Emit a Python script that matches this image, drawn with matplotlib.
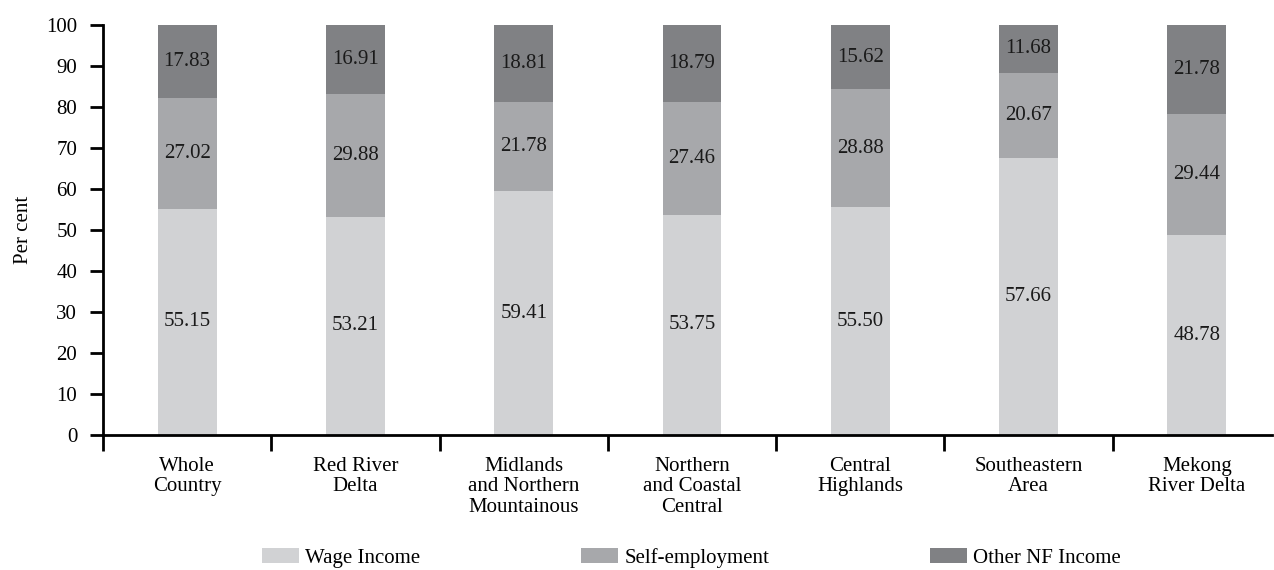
import matplotlib
matplotlib.use("Agg")
import matplotlib.pyplot as plt
import numpy as np

plt.rcParams['font.family'] = ['Liberation Serif', 'DejaVu Serif']

categories = ["Whole\nCountry", "Red River\nDelta", "Midlands\nand Northern\nMountainous",
              "Northern\nand Coastal\nCentral", "Central\nHighlands", "Southeastern\nArea",
              "Mekong\nRiver Delta"]
wage = [55.15, 53.21, 59.41, 53.75, 55.50, 67.66, 48.78]
self_emp = [27.02, 29.88, 21.78, 27.46, 28.88, 20.67, 29.44]
other_nf = [17.83, 16.91, 18.81, 18.79, 15.62, 11.68, 21.78]
# labels as printed in the source (the Southeastern wage label reads 57.66)
wage_labels = ["55.15", "53.21", "59.41", "53.75", "55.50", "57.66", "48.78"]
self_labels = ["27.02", "29.88", "21.78", "27.46", "28.88", "20.67", "29.44"]
other_labels = ["17.83", "16.91", "18.81", "18.79", "15.62", "11.68", "21.78"]
series_names = ["Wage Income", "Self-employment", "Other NF Income"]
colors = ["#d1d2d4", "#a7a8ab", "#808184"]

FS = 15

fig = plt.figure(figsize=(12.74, 5.70), dpi=100)
ax = fig.add_axes([103/1274, 1-435/570, (1272-103)/1274, (435-25)/570])

x = np.arange(len(categories))
w = 0.35
bottoms = np.zeros(len(categories))
handles = []
for vals, labs, col, name in zip([wage, self_emp, other_nf],
                                 [wage_labels, self_labels, other_labels],
                                 colors, series_names):
    vals = np.array(vals)
    bars = ax.bar(x, vals, w, bottom=bottoms, color=col, label=name, zorder=2)
    handles.append(bars)
    ax.bar_label(bars, labels=labs, label_type='center', fontsize=FS, color='#1a1a1a')
    bottoms = bottoms + vals

ax.set_ylim(0, 100)
ax.set_xlim(-0.5, 6.446)
ax.set_yticks(np.arange(0, 101, 10))
ax.tick_params(axis='y', direction='out', length=9.5, width=2, labelsize=FS, pad=9)

ax.set_xticks(np.arange(-0.5, 6.0, 1.0))
ax.set_xticklabels([])
ax.tick_params(axis='x', which='major', direction='out', length=11.5, width=2)
ax.set_xticks(x, minor=True)
ax.set_xticklabels(categories, minor=True, fontsize=FS, linespacing=1.12)
ax.tick_params(axis='x', which='minor', length=0, pad=15.5)

for s in ['top', 'right']:
    ax.spines[s].set_visible(False)
ax.spines['left'].set_linewidth(2)
ax.spines['bottom'].set_linewidth(2)

ax.set_ylabel("Per cent", fontsize=FS)
ax.yaxis.set_label_coords(-0.060, 0.5)

leg_x = [262, 581, 930]
for h, lx in zip(handles, leg_x):
    fig.legend(handles=[h], loc='center left', bbox_to_anchor=(lx/1274, 1-558/570),
               frameon=False, fontsize=FS, handlelength=1.78, handleheight=0.72,
               handletextpad=0.29, borderpad=0, borderaxespad=0)

fig.savefig("out.png", dpi=100)
